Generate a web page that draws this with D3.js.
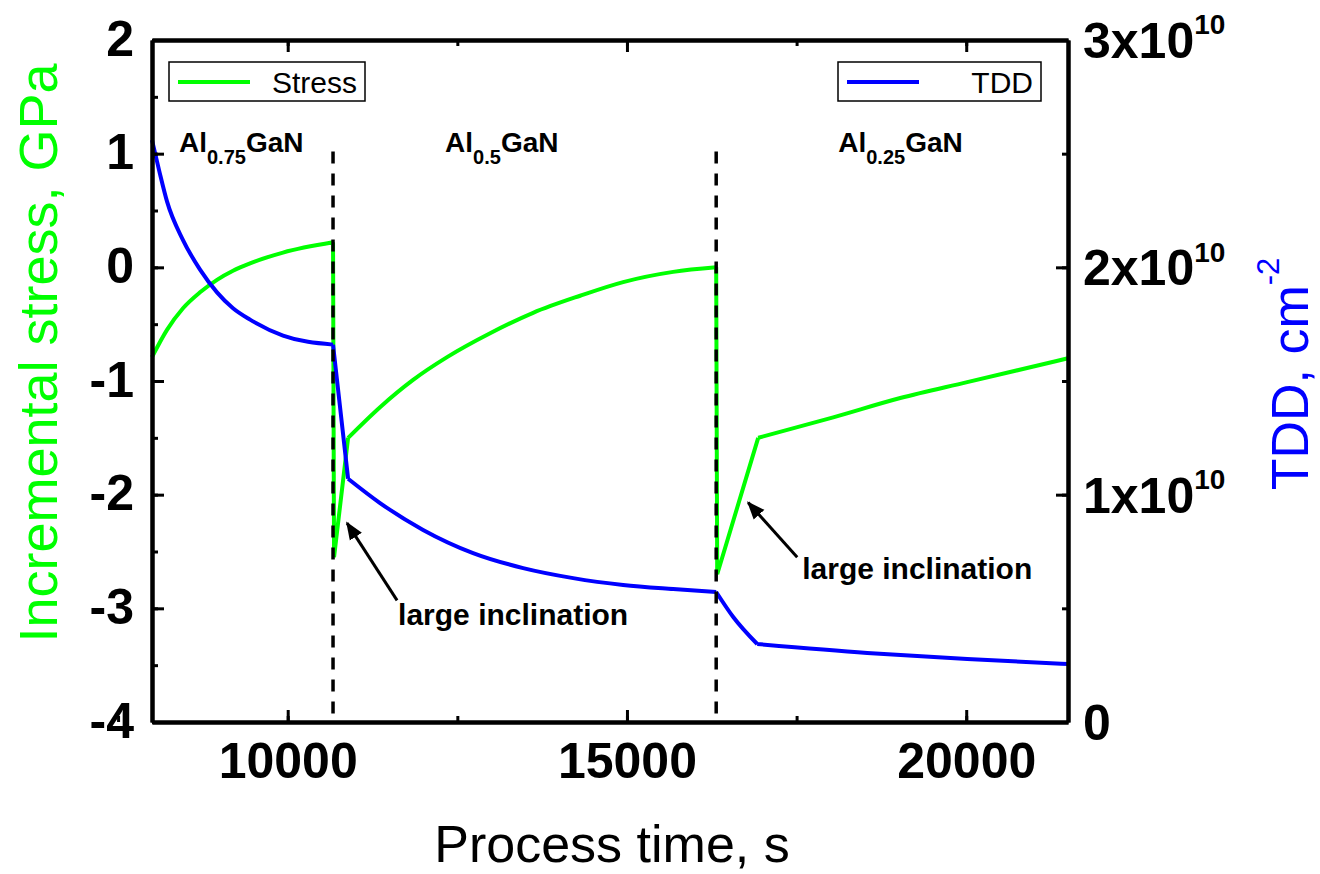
<!DOCTYPE html>
<html>
<head>
<meta charset="utf-8">
<script src="https://cdn.jsdelivr.net/npm/d3@7"></script>
<style>
  body { margin: 0; background: #fff; }
  text { font-family: "Liberation Sans", Arial, sans-serif; }
</style>
</head>
<body>
<script>
//Global variables
    const width = 1320;
    const height = 874;
    const plotLeft = 152, plotRight = 1068, plotTop = 40, plotBottom = 722;

//Data
    const stressTime  = [8000, 8221, 8457, 8708, 8958, 9194, 9445, 9931, 10668,
                         10683, 10890, 11361, 11848, 12349, 12983, 13617, 14310, 14944, 15681, 16315,
                         16330, 16934, 18040, 19028, 20015, 21500];
    const stressValue = [-0.79, -0.55, -0.36, -0.22, -0.11, -0.03, 0.035, 0.13, 0.22,
                         -2.55, -1.50, -1.23, -0.99, -0.79, -0.58, -0.40, -0.25, -0.13, -0.04, 0.0,
                         -2.70, -1.50, -1.32, -1.15, -1.01, -0.80];
    //indices where the stress curve has a corner
    const stressKinks = [8, 9, 10, 19, 20, 21];

    const tddTime  = [8000, 8110, 8221, 8457, 8708, 8958, 9194, 9445, 9931, 10668,
                      10890, 11361, 11995, 12732, 13470, 14207, 14944, 15681, 16315,
                      16566, 16920, 18541, 20015, 21500];
    const tddValue = [2.56e10, 2.42e10, 2.29e10, 2.12e10, 1.99e10, 1.89e10, 1.82e10, 1.77e10, 1.70e10, 1.66e10,
                      1.07e10, 0.963e10, 0.845e10, 0.743e10, 0.677e10, 0.633e10, 0.603e10, 0.585e10, 0.572e10,
                      0.462e10, 0.343e10, 0.304e10, 0.277e10, 0.255e10];
    const tddKinks = [9, 10, 18, 20];

    const layerBounds = [10668, 16315];
    const xTicks = [10000, 15000, 20000];
    const leftTicks = [-4, -3, -2, -1, 0, 1, 2];
    const rightTicks = [0, 1e10, 2e10, 3e10];

    const stressData = stressTime.map((t, i) => ({t: t, v: stressValue[i]}));
    const tddData = tddTime.map((t, i) => ({t: t, v: tddValue[i]}));

//Scales
    const xScale = d3.scaleLinear().domain([8000, 21500]).range([plotLeft, plotRight]);
    const yLeft = d3.scaleLinear().domain([-4, 2]).range([plotBottom, plotTop]);
    const yRight = d3.scaleLinear().domain([0, 3e10]).range([plotBottom, plotTop]);

//SVG element
    const svg = d3.select("body").append("svg")
                .attr("width", width)
                .attr("height", height);

    svg.append("defs").append("marker")
        .attr("id", "head")
        .attr("viewBox", "0 0 10 10")
        .attr("refX", 9).attr("refY", 5)
        .attr("markerWidth", 6).attr("markerHeight", 6)
        .attr("markerUnits", "strokeWidth")
        .attr("orient", "auto")
        .append("path").attr("d", "M0,1 L10,5 L0,9 Z").attr("fill", "#000");

//Lines
    //split a series at its corners, smooth each piece
    function piecewise(data, kinks, yScale) {
        const line = d3.line().x(d => xScale(d.t)).y(d => yScale(d.v)).curve(d3.curveMonotoneX);
        const cuts = [0].concat(kinks, [data.length - 1]);
        let d = "";
        for (let i = 0; i < cuts.length - 1; i++) {
            d += line(data.slice(cuts[i], cuts[i + 1] + 1));
        }
        return d;
    }

    svg.append("path")
        .attr("fill", "none")
        .attr("stroke", "#00ff00")
        .attr("stroke-width", 4)
        .attr("stroke-linejoin", "round")
        .attr("d", piecewise(stressData, stressKinks, yLeft));

    svg.append("path")
        .attr("fill", "none")
        .attr("stroke", "#0000ff")
        .attr("stroke-width", 4)
        .attr("stroke-linejoin", "round")
        .attr("d", piecewise(tddData, tddKinks, yRight));

    //Dashed layer boundaries
    svg.selectAll(".bound")
        .data(layerBounds)
        .enter()
        .append("line")
        .attr("x1", d => xScale(d)).attr("x2", d => xScale(d))
        .attr("y1", yLeft(1.02)).attr("y2", plotBottom)
        .attr("stroke", "#000")
        .attr("stroke-width", 3.5)
        .attr("stroke-dasharray", "12,10");

//Axes
    const axisStyle = g => {
        g.select(".domain").attr("stroke-width", 4);
        g.selectAll(".tick line").attr("stroke-width", 3);
        g.selectAll("text")
            .attr("font-family", "'Liberation Sans', Arial, sans-serif")
            .attr("font-weight", "bold")
            .attr("font-size", 50)
            .attr("fill", "#000");
    };

    //minor ticks first
    svg.append("g").attr("transform", "translate(0," + plotBottom + ")")
        .call(d3.axisBottom(xScale).tickValues(d3.range(7500, 21501, 2500)).tickSize(-6).tickFormat("").tickSizeOuter(0))
        .call(axisStyle);
    svg.append("g").attr("transform", "translate(0," + plotTop + ")")
        .call(d3.axisTop(xScale).tickValues(d3.range(7500, 21501, 2500)).tickSize(-6).tickFormat("").tickSizeOuter(0))
        .call(axisStyle);
    svg.append("g").attr("transform", "translate(" + plotLeft + ",0)")
        .call(d3.axisLeft(yLeft).tickValues(d3.range(-4, 2.01, 0.5)).tickSize(-6).tickFormat("").tickSizeOuter(0))
        .call(axisStyle);
    svg.append("g").attr("transform", "translate(" + plotRight + ",0)")
        .call(d3.axisRight(yRight).tickValues(d3.range(0, 3.01e10, 0.5e10)).tickSize(-6).tickFormat("").tickSizeOuter(0))
        .call(axisStyle);

    //major ticks with labels
    svg.append("g").attr("transform", "translate(0," + plotBottom + ")")
        .call(d3.axisBottom(xScale).tickValues(xTicks).tickSize(-12).tickPadding(20).tickFormat(d => String(d)).tickSizeOuter(0))
        .call(axisStyle);
    svg.append("g").attr("transform", "translate(0," + plotTop + ")")
        .call(d3.axisTop(xScale).tickValues(xTicks).tickSize(-12).tickFormat("").tickSizeOuter(0))
        .call(axisStyle);
    svg.append("g").attr("transform", "translate(" + plotLeft + ",0)")
        .call(d3.axisLeft(yLeft).tickValues(leftTicks).tickSize(-12).tickPadding(18).tickFormat(d => String(d)).tickSizeOuter(0))
        .call(axisStyle)
        .selectAll("text").attr("dy", "0.3em");

    const rightAxis = svg.append("g").attr("transform", "translate(" + plotRight + ",0)")
        .call(d3.axisRight(yRight).tickValues(rightTicks).tickSize(-12).tickPadding(15).tickFormat("").tickSizeOuter(0))
        .call(axisStyle);

    rightAxis.selectAll(".tick text")
        .attr("dy", "0.35em")
        .each(function(d) {
            const t = d3.select(this);
            if (d === 0) { t.text("0"); return; }
            t.append("tspan").text((d / 1e10) + "x10");
            t.append("tspan").attr("font-size", 28).attr("dy", "-0.85em").text("10");
        });

//Axis titles
    svg.append("text")
        .attr("x", 612).attr("y", 862)
        .attr("text-anchor", "middle")
        .attr("font-size", 52)
        .text("Process time, s");

    svg.append("text")
        .attr("transform", "translate(57,353) rotate(-90)")
        .attr("text-anchor", "middle")
        .attr("font-size", 54)
        .attr("fill", "#00ff00")
        .text("Incremental stress, GPa");

    const tddTitle = svg.append("text")
        .attr("transform", "translate(1308,374) rotate(-90)")
        .attr("text-anchor", "middle")
        .attr("font-size", 52)
        .attr("fill", "#0000ff");
    tddTitle.append("tspan").text("TDD, cm");
    tddTitle.append("tspan").attr("font-size", 31).attr("dy", "-0.95em").text("-2");

//Layer labels
    const layers = [
        {start: 8398, sub: "0.75"},
        {start: 12320, sub: "0.5"},
        {start: 18114, sub: "0.25"}
    ];
    layers.forEach(l => {
        const t = svg.append("text")
            .attr("x", xScale(l.start)).attr("y", 152)
            .attr("font-size", 28).attr("font-weight", "bold");
        t.append("tspan").text("Al");
        t.append("tspan").attr("font-size", 20).attr("dy", 12).text(l.sub);
        t.append("tspan").attr("dy", -12).text("GaN");
    });

//Annotations
    const notes = [
        {from: [11612, -2.93], to: [10875, -2.25], label: [11627, -3.15]},
        {from: [17509, -2.55], to: [16787, -2.07], label: [17583, -2.74]}
    ];
    notes.forEach(n => {
        svg.append("line")
            .attr("x1", xScale(n.from[0])).attr("y1", yLeft(n.from[1]))
            .attr("x2", xScale(n.to[0])).attr("y2", yLeft(n.to[1]))
            .attr("stroke", "#000").attr("stroke-width", 3)
            .attr("marker-end", "url(#head)");
        svg.append("text")
            .attr("x", xScale(n.label[0])).attr("y", yLeft(n.label[1]))
            .attr("font-size", 30).attr("font-weight", "bold")
            .text("large inclination");
    });

//Legends
    const legends = [
        {x: 169, w: 196, color: "#00ff00", name: "Stress"},
        {x: 838, w: 203, color: "#0000ff", name: "TDD"}
    ];
    legends.forEach(g => {
        svg.append("rect")
            .attr("x", g.x).attr("y", 62).attr("width", g.w).attr("height", 39)
            .attr("fill", "#fff").attr("stroke", "#000").attr("stroke-width", 1.5);
        svg.append("line")
            .attr("x1", g.x + 9).attr("x2", g.x + 81).attr("y1", 82).attr("y2", 82)
            .attr("stroke", g.color).attr("stroke-width", 4);
        svg.append("text")
            .attr("x", g.x + g.w - 8).attr("y", 93)
            .attr("text-anchor", "end")
            .attr("font-size", 30)
            .text(g.name);
    });
</script>
</body>
</html>
